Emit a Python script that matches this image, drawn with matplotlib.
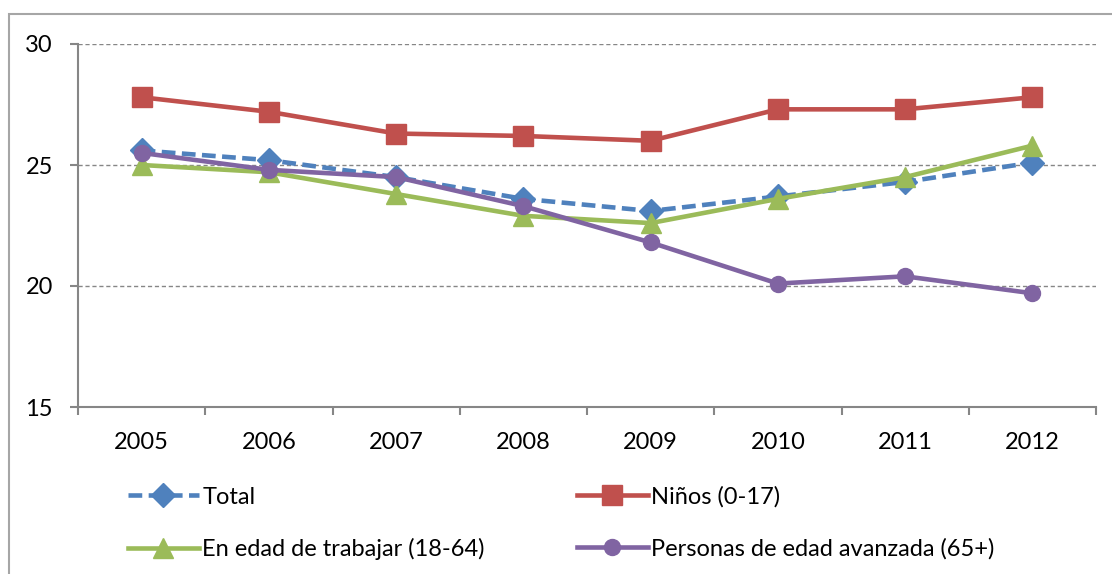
import numpy as np
import matplotlib
matplotlib.use("Agg")
import matplotlib.pyplot as plt
from matplotlib.patches import Rectangle

# data
years = ["2005", "2006", "2007", "2008", "2009", "2010", "2011", "2012"]
total = [25.6, 25.2, 24.5, 23.6, 23.1, 23.7, 24.3, 25.1]
ninos = [27.8, 27.2, 26.3, 26.2, 26.0, 27.3, 27.3, 27.8]
trabajar = [25.0, 24.7, 23.8, 22.9, 22.6, 23.6, 24.5, 25.8]
avanzada = [25.5, 24.8, 24.5, 23.3, 21.8, 20.1, 20.4, 19.7]
y_ticks = [15, 20, 25, 30]

plt.rcParams["font.family"] = ["Lato", "DejaVu Sans"]

fig = plt.figure(figsize=(11.12, 5.74), dpi=100)
ax = fig.add_axes([78/1112, 1 - 407/574, (1096-78)/1112, (407-44)/574])

# outer chart border (excel style)
fig.patches.append(Rectangle((9/1112, -0.1), 1.2, 0.1 + (574-14)/574,
                             transform=fig.transFigure, fill=False,
                             edgecolor="#a6a6a6", linewidth=1.5))

x = np.arange(len(years))
ax.plot(x, total, color="#4F81BD", lw=3.3, dashes=(3, 1.4), marker="D",
        ms=12, label="Total")
ax.plot(x, ninos, color="#C0504D", lw=3.3, marker="s", ms=14.5,
        label="Niños (0-17)")
ax.plot(x, trabajar, color="#9BBB59", lw=3.3, marker="^", ms=15,
        label="En edad de trabajar (18-64)")
ax.plot(x, avanzada, color="#8064A2", lw=3.3, marker="o", ms=11.5,
        label="Personas de edad avanzada (65+)")

ax.set_xlim(-0.5, len(years) - 0.5)
ax.set_ylim(15, 30)
ax.set_yticks(y_ticks)
ax.set_xticks(x)
ax.set_xticklabels(years)
ax.set_xticks(np.arange(len(years) + 1) - 0.5, minor=True)

for yv in y_ticks[1:]:
    ax.axhline(yv, color="#868686", lw=1, dashes=(3, 2), zorder=0)

for s in ["top", "right"]:
    ax.spines[s].set_visible(False)
for s in ["left", "bottom"]:
    ax.spines[s].set_color("#868686")
    ax.spines[s].set_linewidth(1.5)

ax.tick_params(axis="x", which="major", length=0, pad=18, labelsize=17)
ax.tick_params(axis="x", which="minor", length=6, width=1.5, color="#868686")
ax.tick_params(axis="y", length=6, width=1.5, color="#868686", pad=12,
               labelsize=17)

h, l = ax.get_legend_handles_labels()
order = [0, 2, 1, 3]
fig.legend([h[i] for i in order], [l[i] for i in order], ncol=2,
           loc="upper left", bbox_to_anchor=(128/1112, 1 - 486/574),
           frameon=False, fontsize=17, handlelength=3.0, handletextpad=0.15,
           columnspacing=3.9, labelspacing=1.3, borderaxespad=0,
           borderpad=0)

fig.savefig("out.png", dpi=100)
